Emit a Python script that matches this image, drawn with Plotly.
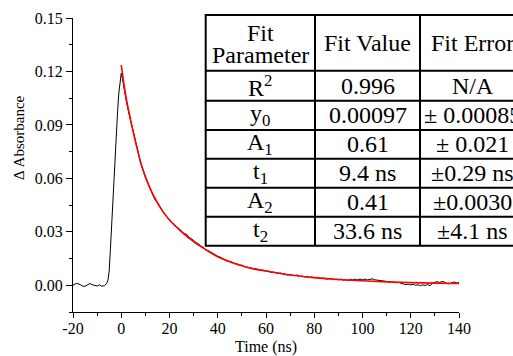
import plotly.graph_objects as go

# ---------------- data ----------------
data_time_ns = [-20, -19, -18, -17, -16, -15, -14, -13, -12, -11, -10, -9, -8, -7, -6,
                -5.5, -5, -4.5, -4, -3.5, -3, -2.5, -2, -1.5, -1, -0.5, 0, 0.5, 1,
                2, 3, 4, 5, 6, 7, 8, 9, 10, 11, 12, 13, 14, 15, 16, 17, 18, 19, 20,
                21, 22, 23, 24, 25, 26, 27, 28, 29, 30, 31, 32, 33, 34, 35, 36, 37, 38, 39, 40,
                41, 42, 43, 44, 45, 46, 47, 48, 49, 50, 51, 52, 53, 54, 55, 56, 57, 58, 59, 60,
                61, 62, 63, 64, 65, 66, 67, 68, 69, 70, 71, 72, 73, 74, 75, 76, 77, 78, 79, 80,
                81, 82, 83, 84, 85, 86, 87, 88, 89, 90, 91, 92, 93, 94, 95, 96, 97, 98, 99, 100,
                101, 102, 103, 104, 105, 106, 107, 108, 109, 110, 111, 112, 113, 114, 115, 116, 117, 118, 119, 120,
                121, 122, 123, 124, 125, 126, 127, 128, 129, 130, 131, 132, 133, 134, 135, 136, 137, 138, 139, 140]
data_absorbance = [0.0000, 0.0008, 0.0010, 0.0002, -0.0004, -0.0006, 0.0004, 0.0010, 0.0003, -0.0002,
                   -0.0004, 0.0002, -0.0006, -0.0002, 0.0010,
                   0.0030, 0.0080, 0.0200, 0.0340, 0.0470, 0.0590, 0.0720, 0.0850, 0.0980, 0.1080,
                   0.1150, 0.1190, 0.1160, 0.1110,
                   0.1040, 0.0975, 0.0915, 0.0865, 0.0805, 0.0745, 0.0690, 0.0650, 0.0605, 0.0575,
                   0.0540, 0.0515, 0.0480, 0.0465, 0.0440, 0.0420, 0.0400, 0.0385, 0.0368,
                   0.0350, 0.0343, 0.0325, 0.0318, 0.0302, 0.0290, 0.0287, 0.0270, 0.0262, 0.0248,
                   0.0240, 0.0232, 0.0220, 0.0214, 0.0200, 0.0195, 0.0186, 0.0178, 0.0170, 0.0163,
                   0.0158, 0.0150, 0.0146, 0.0136, 0.0133, 0.0130, 0.0122, 0.0120, 0.0112, 0.0113,
                   0.0105, 0.0103, 0.0098, 0.0096, 0.0091, 0.0093, 0.0086, 0.0084, 0.0085, 0.0078,
                   0.0080, 0.0072, 0.0074, 0.0070, 0.0066, 0.0069, 0.0062, 0.0063, 0.0057, 0.0061,
                   0.0055, 0.0054, 0.0058, 0.0050, 0.0052, 0.0047, 0.0050, 0.0044, 0.0047, 0.0042,
                   0.0044, 0.0038, 0.0041, 0.0040, 0.0035, 0.0036, 0.0039, 0.0031, 0.0034, 0.0030,
                   0.0035, 0.0029, 0.0031, 0.0027, 0.0033, 0.0030, 0.0034, 0.0030, 0.0035, 0.0031,
                   0.0035, 0.0030, 0.0033, 0.0036, 0.0031, 0.0029, 0.0026, 0.0024, 0.0025, 0.0020,
                   0.0022, 0.0016, 0.0018, 0.0014, 0.0016, 0.0010, 0.0007, 0.0004, 0.0006, 0.0002,
                   0.0005, 0.0000, 0.0003, -0.0002, 0.0002, -0.0001, 0.0004, -0.0003, 0.0012, 0.0017,
                   0.0020, 0.0016, 0.0021, 0.0018, 0.0010, 0.0008, 0.0014, 0.0019, 0.0013, 0.0015]

fit_time_ns = [0, 1, 2, 3, 4, 5, 6, 7, 8, 9, 10, 12, 14, 16, 18, 20, 25, 30, 35, 40, 45, 50,
               55, 60, 70, 80, 90, 100, 110, 120, 130, 140]
fit_absorbance = [0.1236, 0.1140, 0.1055, 0.0985, 0.0920, 0.0860, 0.0800, 0.0745, 0.0692, 0.0648,
                  0.0610, 0.0542, 0.0487, 0.0440, 0.0400, 0.0366, 0.0300, 0.0245, 0.0200, 0.0160,
                  0.0132, 0.0110, 0.0092, 0.0080, 0.0058, 0.0043, 0.0032, 0.0025, 0.0019, 0.0015,
                  0.0012, 0.0010]

x_tick_vals = [-20, 0, 20, 40, 60, 80, 100, 120, 140]
x_tick_labels = ["-20", "0", "20", "40", "60", "80", "100", "120", "140"]
y_tick_vals = [0.00, 0.03, 0.06, 0.09, 0.12, 0.15]
y_tick_labels = ["0.00", "0.03", "0.06", "0.09", "0.12", "0.15"]

table_header = ["Fit Parameter", "Fit Value", "Fit Error"]
table_params = ["R<sup>2</sup>", "y<sub>0</sub>", "A<sub>1</sub>", "t<sub>1</sub>", "A<sub>2</sub>", "t<sub>2</sub>"]
table_values = ["0.996", "0.00097", "0.61", "9.4 ns", "0.41", "33.6 ns"]
table_errors = ["N/A", "± 0.00085", "± 0.021", "±0.29 ns", "±0.0030", "±4.1 ns"]

# ---------------- layout geometry ----------------
W, H = 513, 356
L, R, T, B = 73, 54, 18, 44
PW, PH = W - L - R, H - T - B
FONT = "Liberation Serif"


def px(x):
    return (x - L) / PW


def py(y):
    return (H - B - y) / PH


fig = go.Figure()
fig.add_trace(go.Scatter(x=data_time_ns, y=data_absorbance, mode="lines",
                         line=dict(color="black", width=1), showlegend=False))
fig.add_trace(go.Scatter(x=fit_time_ns, y=fit_absorbance, mode="lines",
                         line=dict(color="#ff0000", width=1.6, shape="spline"), showlegend=False))

axis_common = dict(showline=True, linecolor="black", linewidth=1, ticks="outside",
                   tickcolor="black", showgrid=False, zeroline=False,
                   tickfont=dict(family=FONT, size=16, color="black"))
fig.update_xaxes(range=[-20, 140], tickvals=x_tick_vals, ticktext=x_tick_labels, ticklen=5,
                 ticklabelstandoff=-3,
                 minor=dict(dtick=10, tick0=0, ticks="outside", ticklen=3, tickcolor="black"),
                 **axis_common)
fig.update_yaxes(range=[-0.015, 0.15], tickvals=y_tick_vals, ticktext=y_tick_labels, ticklen=6,
                 minor=dict(dtick=0.015, tick0=0, ticks="outside", ticklen=3, tickcolor="black"),
                 **axis_common)

shapes = []
annots = []

# table geometry (pixels)
col_x = [205.7, 315, 420, 525]
row_y = [15, 70.7, 100.7, 130, 158.7, 187.7, 216.7, 245.7]
lw = 2
shapes.append(dict(type="rect", xref="paper", yref="paper", x0=px(col_x[0]), x1=px(col_x[-1]),
                   y0=py(row_y[-1]), y1=py(row_y[0]), fillcolor="white",
                   line=dict(color="black", width=lw), layer="above"))
for yy in row_y[1:-1]:
    shapes.append(dict(type="line", xref="paper", yref="paper", x0=px(col_x[0]), x1=px(col_x[-1]),
                       y0=py(yy), y1=py(yy), line=dict(color="black", width=lw), layer="above"))
for xx in col_x[1:-1]:
    shapes.append(dict(type="line", xref="paper", yref="paper", x0=px(xx), x1=px(xx),
                       y0=py(row_y[0]), y1=py(row_y[-1]), line=dict(color="black", width=lw), layer="above"))

TF = dict(family=FONT, size=24, color="black")
centers = [(col_x[i] + col_x[i + 1]) / 2 for i in range(3)]
centers[2] = 473
# header
hdr_words = table_header[0].split(" ")
annots.append(dict(text=hdr_words[0], x=px(centers[0]), y=py(33), xref="paper", yref="paper",
                   showarrow=False, font=TF, xanchor="center", yanchor="middle"))
annots.append(dict(text=hdr_words[1], x=px(centers[0]), y=py(55), xref="paper", yref="paper",
                   showarrow=False, font=TF, xanchor="center", yanchor="middle"))
hy = (row_y[0] + row_y[1]) / 2
for c in (1, 2):
    annots.append(dict(text=table_header[c], x=px(centers[c]), y=py(hy), xref="paper", yref="paper",
                       showarrow=False, font=TF, xanchor="center", yanchor="middle"))
for r in range(6):
    yc = (row_y[r + 1] + row_y[r + 2]) / 2
    for c, col in enumerate([table_params, table_values, table_errors]):
        annots.append(dict(text=col[r], x=px(centers[c]), y=py(yc), xref="paper", yref="paper",
                           showarrow=False, font=TF, xanchor="center", yanchor="middle"))

# axis titles
annots.append(dict(text="Time (ns)", x=px(266), y=py(347), xref="paper", yref="paper",
                   showarrow=False, font=dict(family=FONT, size=16, color="black"),
                   xanchor="center", yanchor="middle"))
annots.append(dict(text="Δ Absorbance", x=px(18.5), y=py(137.5), xref="paper", yref="paper",
                   showarrow=False, textangle=-90, font=dict(family=FONT, size=15, color="black"),
                   xanchor="center", yanchor="middle"))

fig.update_layout(width=W, height=H, margin=dict(l=L, r=R, t=T, b=B, autoexpand=False),
                  plot_bgcolor="white", paper_bgcolor="white", shapes=shapes, annotations=annots,
                  font=dict(family=FONT, color="black"))

fig.write_html("out.html", config={"displayModeBar": False},
               post_script="document.body.style.margin='0';document.body.style.padding='0';")
